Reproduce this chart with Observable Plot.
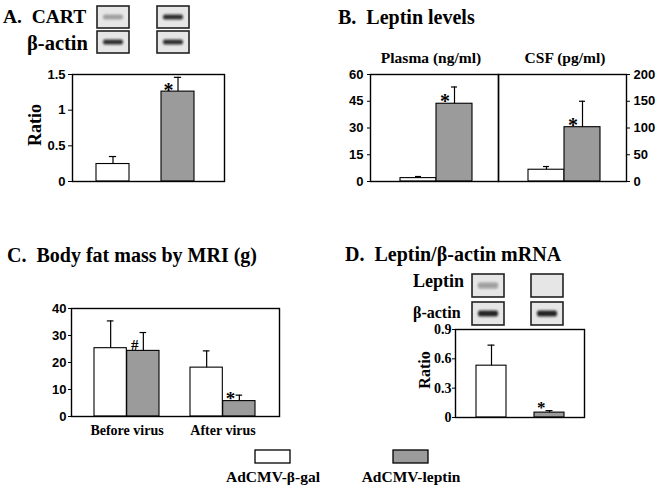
<!DOCTYPE html>
<html><head><meta charset="utf-8">
<script src="https://cdn.jsdelivr.net/npm/d3@7"></script>
<script src="https://cdn.jsdelivr.net/npm/@observablehq/plot@0.6"></script>
<style>
html,body{margin:0;padding:0;background:#fff;}
#fig{position:relative;width:664px;height:492px;overflow:hidden;background:#fff;}
#fig > svg{position:absolute;}
</style></head><body><div id="fig"></div>
<script>
// ---------------- data ----------------
const treatments = ["AdCMV-β-gal", "AdCMV-leptin"];

const cartRatio = [0.245, 1.26];
const cartSem = [0.105, 0.2];
const cartSig = ["", "*"];
const cartTicks = [0, 0.5, 1, 1.5];

const plasmaLeptin = [1.9, 43.6];
const plasmaSem = [0.9, 9.4];
const plasmaSig = ["", "*"];
const plasmaTicks = [0, 15, 30, 45, 60];

const csfLeptin = [22, 101.5];
const csfSem = [6, 48.5];
const csfSig = ["", "*"];
const csfTicks = [0, 50, 100, 150, 200];

const fatPeriods = ["Before virus", "After virus"];
const fatGal = [25.3, 18.1];
const fatGalSem = [10.1, 6.2];
const fatLeptin = [24.3, 5.7];
const fatLeptinSem = [6.8, 2.2];
const fatLeptinSig = ["#", "*"];
const fatTicks = [0, 10, 20, 30, 40];

const mrnaRatio = [0.53, 0.05];
const mrnaSem = [0.21, 0.02];
const mrnaSig = ["", "*"];
const mrnaTicks = [0, 0.3, 0.6, 0.9];

const cartBlotRows = ["CART", "β-actin"];
const cartBlotIntensity = [[0.3, 0.85], [0.85, 0.85]];
const mrnaBlotRows = ["Leptin", "β-actin"];
const mrnaBlotIntensity = [[0.35, 0.0], [0.9, 0.9]];

// ---------------- styling / layout ----------------
const SERIF = "'Liberation Serif','Times New Roman',serif";
const SANS = "'Liberation Sans',Arial,sans-serif";
const GRAY = "#9b9b9b";
const fig = document.getElementById("fig");
const colorScale = {domain: treatments, range: ["white", GRAY]};

function boldAxes(svg) {
  d3.select(svg).selectAll("text").attr("font-weight", "bold");
}
function place(svg, left, top) {
  svg.style.left = left + "px";
  svg.style.top = top + "px";
  fig.appendChild(svg);
}
function bandStep(w, n, inner, outer) { return w / (n - inner + 2 * outer); }

function twoBar(cfg) {
  const {values, sems, sig, ticks, frame, m, pad, axis, tickFont, tickSize, tickPadding, star} = cfg;
  const [x0, y0, x1, y1] = frame;
  const W = x1 - x0, H = y1 - y0;
  const bw = bandStep(W, 2, pad.inner, pad.outer) * (1 - pad.inner);
  const capW = 7;
  const rows = treatments.map((t, i) => ({t, v: values[i], s: sems[i], sig: sig[i]}));
  const svg = Plot.plot({
    width: m.l + W + m.r, height: m.t + H + m.b,
    marginLeft: m.l, marginRight: m.r, marginTop: m.t, marginBottom: m.b,
    style: {background: "none", overflow: "visible", fontFamily: tickFont.family, fontSize: tickFont.size + "px", fontWeight: "bold", color: "black"},
    x: {axis: null, domain: treatments, paddingInner: pad.inner, paddingOuter: pad.outer, align: pad.align},
    y: {domain: [ticks[0], ticks[ticks.length - 1]], ticks, tickFormat: d => String(d), tickSize, tickPadding, label: null, axis},
    color: colorScale,
    marks: [
      Plot.barY(rows, {x: "t", y: "v", fill: "t", stroke: "black", strokeWidth: 1.1}),
      Plot.ruleX(rows, {x: "t", y1: "v", y2: d => d.v + d.s, stroke: "black", strokeWidth: 1.2}),
      Plot.tickY(rows, {x: "t", y: d => d.v + d.s, insetLeft: (bw - capW) / 2, insetRight: (bw - capW) / 2, stroke: "black", strokeWidth: 1.2}),
      Plot.text(rows.filter(d => d.sig), {x: "t", y: "v", text: d => d.sig, lineAnchor: "bottom", dx: star.dx, dy: star.dy, fontSize: star.size, fontFamily: SERIF, fontWeight: "bold"}),
      Plot.frame({stroke: "black", strokeWidth: 1.4})
    ]
  });
  boldAxes(svg);
  place(svg, x0 - m.l, y0 - m.t);
}

// Panel A
twoBar({values: cartRatio, sems: cartSem, sig: cartSig, ticks: cartTicks,
  frame: [72, 74, 224, 181], m: {l: 60, r: 6, t: 6, b: 6},
  pad: {inner: 0.5, outer: 0.41, align: 0.447}, axis: "left",
  tickFont: {family: SANS, size: 13}, tickSize: 4, tickPadding: 3,
  star: {dx: -9.5, dy: 5.5, size: 20}});

// Panel B
twoBar({values: plasmaLeptin, sems: plasmaSem, sig: plasmaSig, ticks: plasmaTicks,
  frame: [370, 74, 498, 181], m: {l: 40, r: 4, t: 6, b: 6},
  pad: {inner: 0, outer: 0.73, align: 0.53}, axis: "left",
  tickFont: {family: SANS, size: 13}, tickSize: 3, tickPadding: 4,
  star: {dx: -9.5, dy: 4.5, size: 20}});
twoBar({values: csfLeptin, sems: csfSem, sig: csfSig, ticks: csfTicks,
  frame: [498, 74, 626, 181], m: {l: 4, r: 40, t: 6, b: 6},
  pad: {inner: 0, outer: 0.73, align: 0.53}, axis: "right",
  tickFont: {family: SANS, size: 13}, tickSize: 3, tickPadding: 4,
  star: {dx: -9.5, dy: 4.5, size: 20}});

// Panel D
twoBar({values: mrnaRatio, sems: mrnaSem, sig: mrnaSig, ticks: mrnaTicks,
  frame: [455, 329, 584, 417], m: {l: 40, r: 6, t: 6, b: 6},
  pad: {inner: 0.488, outer: 0.345, align: 0.51}, axis: "left",
  tickFont: {family: SERIF, size: 14}, tickSize: 3, tickPadding: 1,
  star: {dx: -8.3, dy: 0, size: 17}});

// Panel C (grouped bars)
(function () {
  const [x0, y0, x1, y1] = [71, 308, 279, 416];
  const W = x1 - x0, H = y1 - y0;
  const m = {l: 50, r: 8, t: 10, b: 30};
  const inner = 0.324, outer = 0.2375;
  const bw = bandStep(W, 2, inner, outer) * (1 - inner);
  const half = bw / 2, capW = 7;
  const gal = fatPeriods.map((p, i) => ({p, t: treatments[0], v: fatGal[i], s: fatGalSem[i]}));
  const lep = fatPeriods.map((p, i) => ({p, t: treatments[1], v: fatLeptin[i], s: fatLeptinSem[i], sig: fatLeptinSig[i]}));
  const capInset = (bw - capW) / 2;
  const svg = Plot.plot({
    width: m.l + W + m.r, height: m.t + H + m.b,
    marginLeft: m.l, marginRight: m.r, marginTop: m.t, marginBottom: m.b,
    style: {background: "none", overflow: "visible", fontFamily: SANS, fontSize: "13px", fontWeight: "bold", color: "black"},
    x: {axis: null, domain: fatPeriods, paddingInner: inner, paddingOuter: outer, align: 0.486},
    y: {domain: [0, 40], ticks: fatTicks, tickFormat: d => String(d), tickSize: 3, tickPadding: 2, label: null},
    color: colorScale,
    marks: [
      Plot.barY(gal, {x: "p", y: "v", fill: "t", stroke: "black", strokeWidth: 1.1, insetRight: half}),
      Plot.barY(lep, {x: "p", y: "v", fill: "t", stroke: "black", strokeWidth: 1.1, insetLeft: half}),
      Plot.ruleX(gal, {x: "p", y1: "v", y2: d => d.v + d.s, dx: -half / 2, stroke: "black", strokeWidth: 1.2}),
      Plot.ruleX(lep, {x: "p", y1: "v", y2: d => d.v + d.s, dx: half / 2, stroke: "black", strokeWidth: 1.2}),
      Plot.tickY(gal, {x: "p", y: d => d.v + d.s, insetLeft: capInset, insetRight: capInset, dx: -half / 2, stroke: "black", strokeWidth: 1.2}),
      Plot.tickY(lep, {x: "p", y: d => d.v + d.s, insetLeft: capInset, insetRight: capInset, dx: half / 2, stroke: "black", strokeWidth: 1.2}),
      Plot.text(lep.filter(d => d.sig === "#"), {x: "p", y: "v", text: d => d.sig, lineAnchor: "bottom", dx: half / 2 - 8.7, dy: -1, fontSize: 15, fontFamily: SERIF, fontWeight: "bold"}),
      Plot.text(lep.filter(d => d.sig === "*"), {x: "p", y: "v", text: d => d.sig, lineAnchor: "bottom", dx: half / 2 - 8.8, dy: 3.5, fontSize: 19, fontFamily: SERIF, fontWeight: "bold"}),
      Plot.text(fatPeriods, {x: d => d, text: d => d, frameAnchor: "bottom", lineAnchor: "bottom", dy: 18, fontSize: 14, fontFamily: SERIF, fontWeight: "bold"}),
      Plot.frame({stroke: "black", strokeWidth: 1.4})
    ]
  });
  boldAxes(svg);
  place(svg, x0 - m.l, y0 - m.t);
})();

// Blots
let blurId = 0;
function blot(rows, intensity, box) {
  const {x0, x1, y0, y1, xInner, yInner} = box;
  const mg = 3;
  const cells = rows.flatMap((r, i) => treatments.map((t, j) => ({row: r, lane: t, k: intensity[i][j]})));
  const svg = Plot.plot({
    width: (x1 - x0) + 2 * mg, height: (y1 - y0) + 2 * mg,
    marginLeft: mg, marginRight: mg, marginTop: mg, marginBottom: mg,
    style: {background: "none", overflow: "visible"},
    x: {axis: null, domain: treatments, paddingInner: xInner, paddingOuter: 0},
    y: {axis: null, domain: rows, paddingInner: yInner, paddingOuter: 0},
    marks: [
      Plot.cell(cells, {x: "lane", y: "row", fill: "#e6e6e6", stroke: "#222", strokeWidth: 1.6}),
      Plot.cell(cells, {x: "lane", y: "row", fill: "#111", fillOpacity: "k", insetLeft: 6, insetRight: 6, insetTop: 8.5, insetBottom: 8.5, rx: 2})
    ]
  });
  const id = "blur" + (blurId++);
  const s = d3.select(svg);
  s.append("defs").append("filter").attr("id", id).attr("x", "-20%").attr("y", "-100%").attr("width", "140%").attr("height", "300%")
    .append("feGaussianBlur").attr("stdDeviation", 1.1);
  const gs = svg.querySelectorAll('g[aria-label="cell"]');
  if (gs.length > 1) gs[1].setAttribute("filter", `url(#${id})`);
  place(svg, x0 - mg, y0 - mg);
}
blot(cartBlotRows, cartBlotIntensity, {x0: 97, x1: 189, y0: 5, y1: 53.3, xInner: 0.467, yInner: 0.117});
blot(mrnaBlotRows, mrnaBlotIntensity, {x0: 472, x1: 564, y0: 274.3, y1: 325, xInner: 0.454, yInner: 0.19});

// Legend
(function () {
  const m = {l: 50, r: 50, t: 2, b: 25};
  const svg = Plot.plot({
    width: m.l + 174 + m.r, height: m.t + 13 + m.b,
    marginLeft: m.l, marginRight: m.r, marginTop: m.t, marginBottom: m.b,
    style: {background: "none", overflow: "visible"},
    x: {axis: null, domain: treatments, paddingInner: 0.748, paddingOuter: 0},
    color: colorScale,
    marks: [
      Plot.cell(treatments, {x: d => d, fill: d => d, stroke: "black", strokeWidth: 1.3}),
      Plot.text(treatments, {x: d => d, text: d => d, frameAnchor: "bottom", lineAnchor: "bottom", dy: 18, fontSize: 15.5, fontFamily: SERIF, fontWeight: "bold"})
    ]
  });
  place(svg, 254 - m.l, 450 - m.t);
})();

// Text overlay (titles and labels)
const overlay = d3.select(fig).append("svg").attr("width", 664).attr("height", 492)
  .style("left", "0px").style("top", "0px").style("pointer-events", "none");
const labels = [
  {text: "A.  CART", x: 3, y: 22.5, size: 19.5},
  {text: "β-actin", x: 27, y: 49.5, size: 20.5},
  {text: "B.  Leptin levels", x: 338, y: 24, size: 20},
  {text: "Plasma (ng/ml)", x: 431, y: 63, size: 15.5, anchor: "middle"},
  {text: "CSF (pg/ml)", x: 565, y: 63, size: 15.5, anchor: "middle"},
  {text: "C.  Body fat mass by MRI (g)", x: 7, y: 262, size: 20},
  {text: "D.  Leptin/β-actin mRNA", x: 345, y: 261, size: 20},
  {text: "Leptin", x: 413, y: 287, size: 18},
  {text: "β-actin", x: 413, y: 318, size: 16},
  {text: "Ratio", x: 41, y: 125, size: 18, anchor: "middle", rotate: true},
  {text: "Ratio", x: 430, y: 370, size: 16, anchor: "middle", rotate: true}
];
overlay.selectAll("text").data(labels).join("text")
  .attr("transform", d => `translate(${d.x},${d.y})` + (d.rotate ? " rotate(-90)" : ""))
  .attr("text-anchor", d => d.anchor || "start")
  .style("white-space", "pre")
  .attr("font-family", SERIF).attr("font-weight", "bold")
  .attr("font-size", d => d.size)
  .text(d => d.text);
</script></body></html>
